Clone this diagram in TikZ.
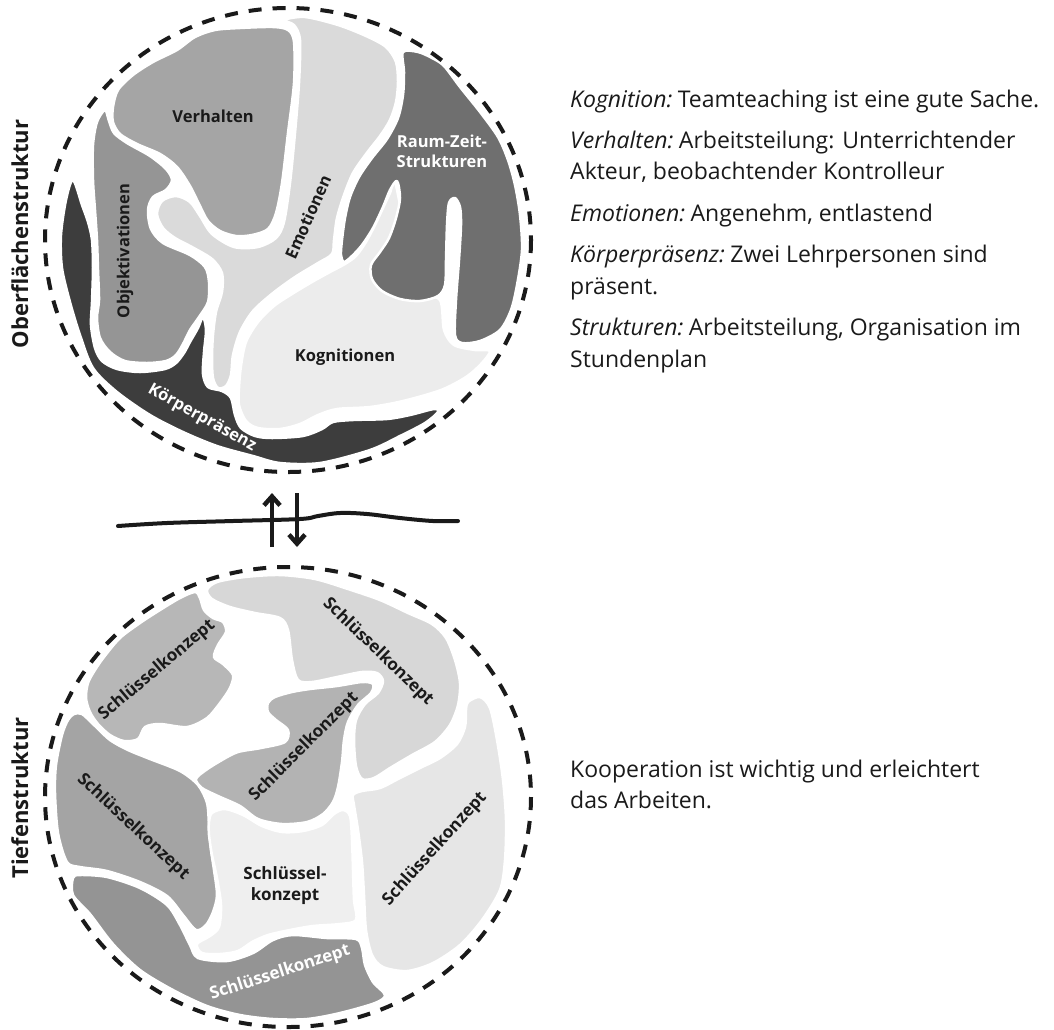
\documentclass[tikz,border=0pt]{standalone}
\usepackage{fontspec}
\setmainfont{Open Sans}
\usetikzlibrary{arrows.meta}
% fills of the upper circle
\definecolor{cVer}{HTML}{A5A5A5}
\definecolor{cObj}{HTML}{959595}
\definecolor{cEmo}{HTML}{DADADA}
\definecolor{cKog}{HTML}{ECECEC}
\definecolor{cRZ}{HTML}{6F6F6F}
\definecolor{cKP}{HTML}{3D3D3D}
% fills of the lower circle
\definecolor{cBa}{HTML}{B7B7B7}
\definecolor{cBb}{HTML}{D7D7D7}
\definecolor{cBc}{HTML}{B3B3B3}
\definecolor{cBd}{HTML}{A4A4A4}
\definecolor{cBe}{HTML}{EFEFEF}
\definecolor{cBf}{HTML}{E6E6E6}
\definecolor{cBg}{HTML}{949494}
\definecolor{ink}{HTML}{1A1A1A}
% italic lead-in of an explanation line
\newcommand{\lead}[1]{{\itshape #1}\hspace{-2.5pt}}
\begin{document}
\begin{tikzpicture}[x=1pt,y=-1pt,
  blob/.style={draw=white, line width=2.5pt, line join=round},
  rim/.style={draw=ink, line width=4pt, dash pattern=on 13pt off 11pt},
  lbl/.style={font=\fontsize{16.5}{20}\selectfont\bfseries, text=ink, align=center, inner sep=0pt},
  klbl/.style={font=\fontsize{17}{21}\selectfont\bfseries, text=ink, align=center, inner sep=0pt},
  side/.style={font=\fontsize{22}{26}\selectfont\bfseries, text=ink, inner sep=0pt, anchor=base, rotate=90},
  body/.style={font=\fontsize{23}{30}\selectfont, text=ink, inner sep=0pt, anchor=base west},
  arr/.style={draw=ink, line width=4.5pt, -{Straight Barb[length=9pt,width=16pt]}},
  wave/.style={draw=ink, line width=4pt, line cap=round}]
\useasboundingbox (0,0) rectangle (1054,1029);

% ---------- upper circle: Oberflaechenstruktur ----------
% Emotionen
\filldraw[blob, fill=cEmo] plot[smooth cycle, tension=0.5] coordinates {
 (284,20) (305,17) (338,25) (366,36) (386,47) (396,62) (398,82) (396,102)
 (390,120) (380,136) (366,154) (353,173) (344,195) (337,218) (334,240)
 (332,254) (318,263) (295,277) (273,293) (253,311) (240,332) (233,355)
 (231,375) (226,386) (218,388) (213,378) (212,358) (213,335) (216,312)
 (222,292) (222,273) (212,259) (192,247) (175,238) (163,228) (157,214)
 (162,201) (176,196) (190,202) (200,216) (212,234) (234,247) (258,247)
 (276,238) (284,222) (290,183) (295,133) (299,83) (300,40) (294,25)};
% Kognitionen
\filldraw[blob, fill=cKog] plot[smooth cycle, tension=0.5] coordinates {
 (395,182) (405,230) (420,290) (440,300) (444,330) (454,345) (475,350)
 (490,351) (481,364) (466,377) (441,390) (403,401) (370,407) (337,409)
 (318,415) (300,424) (280,429) (258,428) (246,421) (239,405) (239,388)
 (241,366) (246,342) (258,322) (274,306) (292,294) (312,282) (330,272)
 (345,264) (356,256) (366,242) (375,225) (383,208) (390,193)};
% Raum-Zeit-Strukturen
\filldraw[blob, fill=cRZ] plot[smooth cycle, tension=0.5] coordinates {
 (403,52) (418,52) (432,58) (444,66) (460,87) (480,112) (498,137) (508,160)
 (515,185) (520,215) (522,250) (517,285) (511,310) (500,330) (480,341)
 (462,343) (455,335) (456,300) (459,260) (461,225) (460,207) (455,198)
 (449,203) (447,225) (446,260) (445,285) (438,296) (420,301) (400,299)
 (382,291) (372,279) (371,265) (380,252) (389,238) (396,218) (400,198)
 (397,181) (390,190) (383,207) (373,228) (362,245) (352,256) (344,262)
 (341,255) (342,240) (345,218) (350,197) (359,177) (372,158) (387,139)
 (398,118) (403,95) (404,72)};
% Koerperpraesenz
\filldraw[blob, fill=cKP] plot[smooth cycle, tension=0.5] coordinates {
 (73,180) (66,200) (61,235) (62,268) (70,302) (80,335) (93,368) (117,392)
 (150,415) (183,432) (217,446) (253,456) (280,463) (320,463) (370,450)
 (400,436) (425,423) (438,412) (434,409) (410,415) (387,419) (353,420)
 (333,422) (322,429) (303,436) (272,438) (255,436) (241,428) (235,415)
 (231,398) (222,391) (208,387) (203,374) (204,352) (206,330) (203,317)
 (198,328) (190,342) (184,353) (176,363) (165,369) (140,372) (117,369)
 (102,361) (95,348) (91,325) (92,302) (93,268) (92,240) (88,222) (82,205)};
% Objektivationen
\filldraw[blob, fill=cObj] plot[smooth cycle, tension=0.5] coordinates {
 (105,110) (109,121) (114,133) (127,143) (150,156) (166,169) (172,180)
 (166,190) (153,197) (148,210) (151,229) (163,243) (190,255) (205,267)
 (209,282) (208,302) (199,317) (190,330) (183,344) (176,355) (166,361)
 (147,363) (125,361) (110,352) (100,338) (97,318) (99,300) (98,270)
 (97,240) (95,210) (93,180) (93,145) (97,122)};
% Verhalten
\filldraw[blob, fill=cVer] plot[smooth cycle, tension=0.5] coordinates {
 (113,107) (118,90) (133,75) (153,62) (177,50) (195,37) (215,30) (240,28)
 (273,27) (288,30) (294,42) (294,83) (288,133) (282,183) (276,213)
 (268,229) (252,235) (236,236) (220,231) (208,221) (200,206) (190,186)
 (177,167) (160,154) (137,144) (120,134) (113,122)};

\node[lbl] (verh) at (213,116) {Verhalten};
\node[lbl, rotate=90] (obj) at (125,251) {Objektivationen};
\node[lbl, rotate=66] (emo) at (308,217) {Emotionen};
\node[lbl, text=white] (rz) at (442,151) {Raum-Zeit-\\Strukturen};
\node[lbl] (kog) at (345,357) {Kognitionen};
\node[lbl, text=white, rotate=-29] (kp) at (202,418) {Körperpräsenz};

\draw[rim] (288,240) ellipse [x radius=243, y radius=232];
\node[side] (oben) at (28,234) {Oberflächenstruktur};

% ---------- lower circle: Tiefenstruktur ----------
\filldraw[blob, fill=cBb] plot[smooth cycle, tension=0.5] coordinates {
 (207,590) (217,582) (245,577) (280,575) (315,579) (348,589) (380,600)
 (408,613) (432,624) (446,638) (455,660) (460,683) (458,705) (450,725)
 (435,742) (412,755) (390,768) (374,778) (362,779) (356,766) (354,740)
 (356,720) (365,704) (378,693) (383,681) (377,673) (362,672) (337,677)
 (312,682) (298,680) (292,660) (288,630) (280,618) (255,613) (230,607)
 (212,599)};
\filldraw[blob, fill=cBa] plot[smooth cycle, tension=0.5] coordinates {
 (195,592) (200,598) (204,610) (213,618) (223,622) (226,632) (218,645)
 (214,657) (223,664) (233,675) (230,688) (220,703) (207,718) (187,727)
 (160,724) (145,727) (138,739) (124,741) (110,735) (98,724) (90,712)
 (86,698) (88,683) (95,670) (104,657) (120,638) (140,623) (160,610)
 (180,598)};
\filldraw[blob, fill=cBc] plot[smooth cycle, tension=0.5] coordinates {
 (268,703) (275,697) (292,692) (310,689) (337,686) (362,682) (373,684)
 (371,693) (358,705) (348,722) (344,740) (342,762) (338,787) (333,802)
 (323,814) (307,822) (282,824) (258,819) (240,806) (218,796) (202,788)
 (196,779) (206,770) (222,760) (238,752) (261,748) (285,742) (288,730)
 (276,720) (268,712)};
\filldraw[blob, fill=cBd] plot[smooth cycle, tension=0.5] coordinates {
 (74,714) (82,714) (94,725) (110,740) (128,750) (150,759) (180,771)
 (198,785) (207,803) (209,825) (211,850) (214,870) (217,895) (213,912)
 (206,925) (196,930) (183,915) (167,896) (140,882) (107,871) (80,867)
 (67,862) (58,833) (55,793) (56,765) (62,735) (68,720)};
\filldraw[blob, fill=cBe] plot[smooth cycle, tension=0.5] coordinates {
 (209,822) (212,813) (225,809) (243,815) (262,826) (282,832) (303,831)
 (322,825) (334,814) (343,810) (350,816) (352,840) (353,870) (354,900)
 (356,920) (340,924) (313,926) (290,930) (268,935) (252,942) (238,951)
 (220,954) (202,953) (197,944) (210,936) (219,927) (221,905) (217,878)
 (212,855) (209,835)};
\filldraw[blob, fill=cBf] plot[smooth cycle, tension=0.5] coordinates {
 (468,702) (480,697) (490,708) (497,740) (503,780) (506,820) (505,860)
 (500,890) (482,920) (460,945) (433,963) (407,971) (383,967) (372,955)
 (366,930) (364,895) (362,862) (358,830) (354,805) (353,795) (362,791)
 (380,788) (400,778) (420,768) (440,758) (457,744) (465,727) (466,710)};
\filldraw[blob, fill=cBg] plot[smooth cycle, tension=0.5] coordinates {
 (73,878) (80,875) (107,877) (140,888) (167,905) (180,925) (190,945)
 (198,958) (227,961) (253,953) (273,940) (293,935) (327,938) (356,939)
 (362,948) (365,965) (373,982) (385,995) (375,1003) (340,1013) (307,1019)
 (273,1019) (240,1015) (207,1006) (173,990) (140,970) (113,944) (90,914)
 (73,895)};

\node[klbl, rotate=40] (ka) at (157,670) {Schlüsselkonzept};
\node[klbl, rotate=-44] (kb) at (378,652) {Schlüsselkonzept};
\node[klbl, rotate=45] (kc) at (304,747) {Schlüsselkonzept};
\node[klbl, rotate=-43] (kd) at (133,827) {Schlüsselkonzept};
\node[klbl] (ke) at (285,886) {Schlüssel-\\konzept};
\node[klbl, rotate=48] (kf) at (435,849) {Schlüsselkonzept};
\node[klbl, text=white, rotate=18] (kg) at (280,973) {Schlüsselkonzept};

\draw[rim] (288,797) ellipse [x radius=243, y radius=230];
\node[side] (unten) at (28,798) {Tiefenstruktur};

% ---------- boundary line and exchange arrows ----------
\draw[wave] plot[smooth, tension=0.6] coordinates {(118,526) (167,523) (233,521)
 (300,519) (318,516) (340,513) (367,514) (400,518) (433,521) (458,521)};
\coordinate (upS) at (272,547);
\coordinate (upE) at (272,493);
\coordinate (dnS) at (297,493);
\coordinate (dnE) at (297,547);
\draw[arr] (upS) -- (upE);
\draw[arr] (dnS) -- (dnE);

% ---------- explanations ----------
\node[body] (t1) at (570,107) {\lead{Kognition:} Teamteaching ist eine gute Sache.};
\node[body] (t2) at (570,148) {\lead{Verhalten:} Arbeitsteilung: Unterrichtender};
\node[body] (t3) at (570,179.5) {Akteur, beobachtender Kontrolleur};
\node[body] (t4) at (570,221) {\lead{Emotionen:} Angenehm, entlastend};
\node[body] (t5) at (570,262.5) {\lead{Körperpräsenz:} Zwei Lehrpersonen sind};
\node[body] (t6) at (570,294) {präsent.};
\node[body] (t7) at (570,335.5) {\lead{Strukturen:} Arbeitsteilung, Organisation im};
\node[body] (t8) at (570,367) {Stundenplan};
\node[body] (t9) at (570,777) {Kooperation ist wichtig und erleichtert};
\node[body] (t10) at (570,808.5) {das Arbeiten.};
\end{tikzpicture}
\end{document}
